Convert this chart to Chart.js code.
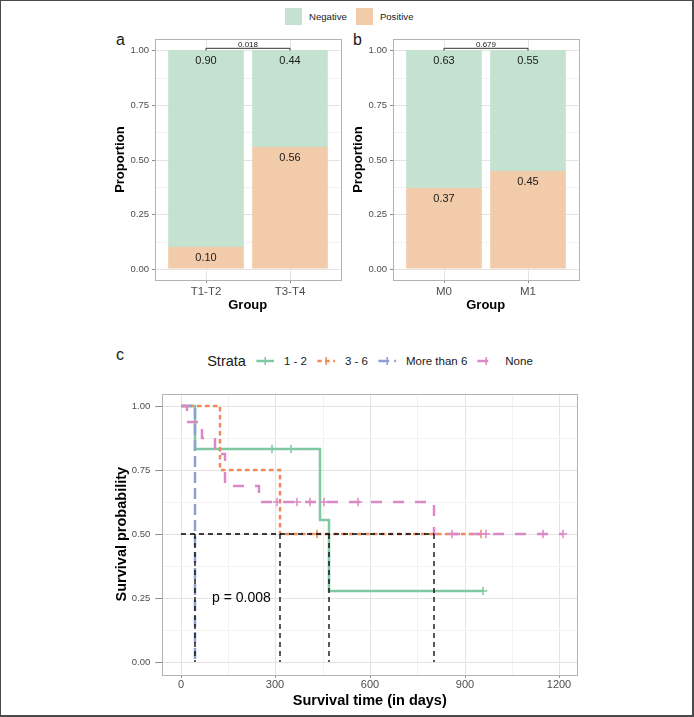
<!DOCTYPE html>
<html>
<head>
<meta charset="utf-8">
<script src="https://cdn.jsdelivr.net/npm/chart.js"></script>
<style>
    body { margin: 0; background: #fff; font-family: "Liberation Sans", Arial, sans-serif; }
    #fig { position: relative; width: 694px; height: 717px; overflow: hidden; background: #fff; }
    #fig canvas { position: absolute; }
    .frame { position: absolute; left: 0; top: 0; width: 694px; height: 717px; box-sizing: border-box;
        border: 1px solid #4a4a4a; border-right-width: 2px; border-bottom-width: 2px; pointer-events: none; }
    .tag { position: absolute; font-size: 16px; color: #1a1a1a; line-height: 1; }
    #topLegend { position: absolute; left: 285px; top: 8px; display: flex; align-items: center; font-size: 9.6px; color: #1a1a1a; }
    #topLegend .sw { width: 17px; height: 17px; margin-right: 7px; }
    #topLegend .lab { margin-right: 9px; }
    #strataLegend { position: absolute; top: 351px; left: 370px; transform: translateX(-50%); display: flex; align-items: center;
        gap: 10px; color: #1a1a1a; white-space: nowrap; height: 20px; }
</style>
</head>
<body>
<div id="fig">
    <div id="topLegend"></div>
    <div class="tag" style="left:116px; top:32px;">a</div>
    <div class="tag" style="left:353px; top:32px;">b</div>
    <div class="tag" style="left:116px; top:347px;">c</div>
    <canvas id="chartA" width="245" height="290" style="left:100px; top:30px;"></canvas>
    <canvas id="chartB" width="245" height="290" style="left:338px; top:30px;"></canvas>
    <div id="strataLegend"></div>
    <canvas id="chartC" width="494" height="342" style="left:100px; top:375px;"></canvas>
    <div class="frame"></div>
</div>
<script>
// Panel a
const groupsA = ['T1-T2', 'T3-T4'];
const positiveA = [0.10, 0.56];
const negativeA = [0.90, 0.44];
const pValueA = '0.018';

// Panel b
const groupsB = ['M0', 'M1'];
const positiveB = [0.37, 0.45];
const negativeB = [0.63, 0.55];
const pValueB = '0.679';

const propTicks = [0, 0.25, 0.5, 0.75, 1];

// Panel c - Kaplan-Meier curves per strata
const strata = ['1 - 2', '3 - 6', 'More than 6', 'None'];
const times12 = [0, 47, 289, 349, 441, 469, 959];
const surv12 = [1, 0.833, 0.833, 0.833, 0.556, 0.278, 0.278];
const cens12 = [0, 0, 1, 1, 0, 0, 1];
const times36 = [0, 125, 315, 433, 952];
const surv36 = [1, 0.75, 0.5, 0.5, 0.5];
const cens36 = [0, 0, 0, 1, 1];
const timesGt6 = [0, 45];
const survGt6 = [1, 0];
const censGt6 = [0, 0];
const timesNone = [0, 20, 69, 109, 140, 249, 304, 370, 410, 454, 563, 803, 859, 968, 1149, 1212];
const survNone = [1, 0.9375, 0.875, 0.8125, 0.6875, 0.625, 0.625, 0.625, 0.625, 0.625, 0.625, 0.5, 0.5, 0.5, 0.5, 0.5];
const censNone = [0, 0, 0, 0, 0, 0, 1, 1, 1, 1, 1, 0, 1, 1, 1, 1];
const timeTicks = [0, 300, 600, 900, 1200];
const survTicks = [0, 0.25, 0.5, 0.75, 1];
const pValueC = 'p = 0.008';

const negColor = '#c4e2cf';
const posColor = '#f1cbaa';
const strataColors = ['#7fc8a2', '#ee8a5a', '#8ea0d0', '#dc88c6'];
const strataDash = [[], [4.5, 3.5], [11, 5], [11, 11]];

const majorGrid = '#e4e4e4';
const minorGrid = '#f2f2f2';
const axisGrey = '#b3b3b3';
const tickGrey = '#8c8c8c';

Chart.defaults.font.family = '"Liberation Sans", Arial, sans-serif';
Chart.defaults.color = '#4d4d4d';

// add minor ticks halfway between the major ones
function withMinor(major) {
    const out = [];
    major.forEach((v, i) => {
        out.push({ value: v, major: true });
        if (i < major.length - 1) out.push({ value: (v + major[i + 1]) / 2, major: false });
    });
    return out;
}

const framePlugin = {
    id: 'frame',
    afterDatasetsDraw(chart) {
        const { ctx, chartArea: a } = chart;
        ctx.save();
        ctx.strokeStyle = axisGrey;
        ctx.lineWidth = 1;
        const l = Math.round(a.left), t = Math.round(a.top);
        ctx.strokeRect(l + 0.5, t + 0.5, Math.round(a.right) - l, Math.round(a.bottom) - t);
        ctx.restore();
    }
};

const barLabelPlugin = {
    id: 'barLabels',
    afterDatasetsDraw(chart) {
        const { ctx } = chart;
        ctx.save();
        ctx.font = '11px "Liberation Sans", Arial, sans-serif';
        ctx.fillStyle = '#1a1a1a';
        ctx.textAlign = 'center';
        ctx.textBaseline = 'middle';
        chart.data.datasets.forEach((ds, di) => {
            chart.getDatasetMeta(di).data.forEach((bar, i) => {
                ctx.fillText(ds.data[i].y.toFixed(2), bar.x, bar.y + 11);
            });
        });
        ctx.restore();
    }
};

const bracketPlugin = {
    id: 'bracket',
    afterDatasetsDraw(chart, args, opts) {
        const { ctx, scales: { x, y } } = chart;
        const x1 = x.getPixelForValue(1), x2 = x.getPixelForValue(2);
        const yTop = y.getPixelForValue(1) - 1.7, yEnd = y.getPixelForValue(1) + 0.5;
        ctx.save();
        ctx.strokeStyle = '#333';
        ctx.lineWidth = 1;
        ctx.beginPath();
        ctx.moveTo(x1, yEnd); ctx.lineTo(x1, yTop); ctx.lineTo(x2, yTop); ctx.lineTo(x2, yEnd);
        ctx.stroke();
        ctx.font = '8px "Liberation Sans", Arial, sans-serif';
        ctx.fillStyle = '#1a1a1a';
        ctx.textAlign = 'center';
        ctx.textBaseline = 'alphabetic';
        ctx.fillText(opts.text, (x1 + x2) / 2, yTop - 1.3);
        ctx.restore();
    }
};

function barChart(id, groups, pos, neg, pText) {
    const xs = groups.map((g, i) => i + 1);
    return new Chart(document.getElementById(id), {
        type: 'bar',
        data: {
            datasets: [
                { label: 'Positive', data: xs.map((x, i) => ({ x, y: pos[i] })), backgroundColor: posColor },
                { label: 'Negative', data: xs.map((x, i) => ({ x, y: neg[i] })), backgroundColor: negColor }
            ]
        },
        options: {
            responsive: false,
            animation: false,
            barPercentage: 0.9,
            categoryPercentage: 1,
            layout: { padding: { top: 9.3, right: 4.5, left: 0, bottom: 0 } },
            plugins: { legend: { display: false }, tooltip: { enabled: false }, bracket: { text: pText } },
            scales: {
                x: {
                    type: 'linear', stacked: true, min: 0.4, max: 2.6, offset: false, alignToPixels: true,
                    afterBuildTicks: s => { s.ticks = xs.map(v => ({ value: v })); },
                    afterFit: s => { s.height = 40; },
                    grid: { offset: false, color: majorGrid, tickLength: 3, tickColor: tickGrey },
                    border: { display: false },
                    ticks: { autoSkip: false, maxRotation: 0, padding: 1.5, color: '#4d4d4d', font: { size: 11.5 },
                        callback: v => groups[v - 1] ?? '' },
                    title: { display: true, text: 'Group', color: '#000', font: { size: 13, weight: 'bold' },
                        padding: { top: 0, bottom: 7.2 } }
                },
                y: {
                    type: 'linear', stacked: true, min: -0.05, max: 1.05, alignToPixels: true,
                    afterBuildTicks: s => { s.ticks = withMinor(propTicks); },
                    afterFit: s => { s.width = 55; },
                    grid: { color: c => c.tick && c.tick.major ? majorGrid : minorGrid, tickLength: 3,
                        tickColor: c => c.tick && c.tick.major ? tickGrey : 'rgba(0,0,0,0)' },
                    border: { display: false },
                    ticks: { autoSkip: false, padding: 3, color: '#4d4d4d', font: { size: 9.5 },
                        callback: (v, i, t) => t[i].major ? v.toFixed(2) : '' },
                    title: { display: true, text: 'Proportion', color: '#000', font: { size: 13, weight: 'bold' },
                        padding: { top: 12.7, bottom: 0 } }
                }
            }
        },
        plugins: [framePlugin, barLabelPlugin, bracketPlugin]
    });
}

barChart('chartA', groupsA, positiveA, negativeA, pValueA);
barChart('chartB', groupsB, positiveB, negativeB, pValueB);

// top legend
const topLegend = document.getElementById('topLegend');
[['Negative', negColor], ['Positive', posColor]].forEach(([name, col]) => {
    topLegend.insertAdjacentHTML('beforeend',
        `<div class="sw" style="background:${col}"></div><span class="lab">${name}</span>`);
});

// survival panel
const survTimes = [times12, times36, timesGt6, timesNone];
const survVals = [surv12, surv36, survGt6, survNone];
const survCens = [cens12, cens36, censGt6, censNone];

function medianTime(times, vals) {
    const i = vals.findIndex(v => v <= 0.5);
    return i < 0 ? null : times[i];
}
const medians = survTimes.map((t, i) => medianTime(t, survVals[i])).filter(m => m !== null);

const medianPlugin = {
    id: 'medians',
    afterDatasetsDraw(chart) {
        const { ctx, scales: { x, y } } = chart;
        ctx.save();
        ctx.strokeStyle = '#000';
        ctx.lineWidth = 1.3;
        ctx.setLineDash([5, 4]);
        const yHalf = y.getPixelForValue(0.5), yZero = y.getPixelForValue(0);
        ctx.beginPath();
        ctx.moveTo(x.getPixelForValue(0), yHalf);
        ctx.lineTo(x.getPixelForValue(Math.max(...medians)), yHalf);
        ctx.stroke();
        medians.forEach(m => {
            ctx.beginPath();
            ctx.moveTo(x.getPixelForValue(m), yHalf);
            ctx.lineTo(x.getPixelForValue(m), yZero);
            ctx.stroke();
        });
        ctx.setLineDash([]);
        ctx.font = '14px "Liberation Sans", Arial, sans-serif';
        ctx.fillStyle = '#000';
        ctx.textAlign = 'left';
        ctx.textBaseline = 'middle';
        ctx.fillText(pValueC, x.getPixelForValue(100), y.getPixelForValue(0.25));
        ctx.restore();
    }
};

new Chart(document.getElementById('chartC'), {
    type: 'line',
    data: {
        datasets: strata.map((name, s) => ({
            label: name,
            data: survTimes[s].map((t, i) => ({ x: t, y: survVals[s][i] })),
            stepped: true,
            fill: false,
            order: strata.length - 1 - s,
            borderColor: strataColors[s],
            borderWidth: 2.5,
            borderDash: strataDash[s],
            borderCapStyle: 'butt',
            pointStyle: 'cross',
            pointRadius: c => survCens[s][c.dataIndex] ? 4.2 : 0,
            pointHoverRadius: 0,
            pointBorderColor: strataColors[s],
            pointBorderWidth: 1.5
        }))
    },
    options: {
        responsive: false,
        animation: false,
        layout: { padding: { top: 18.5, right: 16.7, left: 0, bottom: 0 } },
        plugins: { legend: { display: false }, tooltip: { enabled: false } },
        scales: {
            x: {
                type: 'linear', min: -58, max: 1257, alignToPixels: true,
                afterBuildTicks: s => { s.ticks = withMinor(timeTicks); },
                afterFit: s => { s.height = 42.2; },
                grid: { color: c => c.tick && c.tick.major ? majorGrid : minorGrid, tickLength: 3,
                    tickColor: c => c.tick && c.tick.major ? tickGrey : 'rgba(0,0,0,0)' },
                border: { display: false },
                ticks: { autoSkip: false, maxRotation: 0, padding: 1, color: '#4d4d4d', font: { size: 11 },
                    callback: (v, i, t) => t[i].major ? String(v) : '' },
                title: { display: true, text: 'Survival time (in days)', color: '#000', font: { size: 14.5, weight: 'bold' },
                    padding: { top: 0, bottom: 7.3 } }
            },
            y: {
                type: 'linear', min: -0.05, max: 1.05, alignToPixels: true,
                afterBuildTicks: s => { s.ticks = withMinor(survTicks); },
                afterFit: s => { s.width = 62.3; },
                grid: { color: c => c.tick && c.tick.major ? majorGrid : minorGrid, tickLength: 7,
                    tickColor: c => c.tick && c.tick.major ? tickGrey : 'rgba(0,0,0,0)' },
                border: { display: false },
                ticks: { autoSkip: false, padding: 5, color: '#4d4d4d', font: { size: 9.5 },
                    callback: (v, i, t) => t[i].major ? v.toFixed(2) : '' },
                title: { display: true, text: 'Survival probability', color: '#000', font: { size: 14.5, weight: 'bold' },
                    padding: { top: 13, bottom: 0 } }
            }
        }
    },
    plugins: [framePlugin, medianPlugin]
});

// strata legend
const strataLegend = document.getElementById('strataLegend');
strataLegend.insertAdjacentHTML('beforeend', '<span style="font-size:14.5px">Strata</span>');
strata.forEach((name, s) => {
    const dash = strataDash[s].length ? `stroke-dasharray="${strataDash[s].join(' ')}"` : '';
    strataLegend.insertAdjacentHTML('beforeend',
        `<svg width="18" height="14"><line x1="0" y1="7" x2="18" y2="7" stroke="${strataColors[s]}" stroke-width="2.5" ${dash}/>` +
        `<line x1="9" y1="3" x2="9" y2="11" stroke="${strataColors[s]}" stroke-width="1.5"/></svg>` +
        `<span style="font-size:11.5px">${name}</span>`);
});
</script>
</body>
</html>
